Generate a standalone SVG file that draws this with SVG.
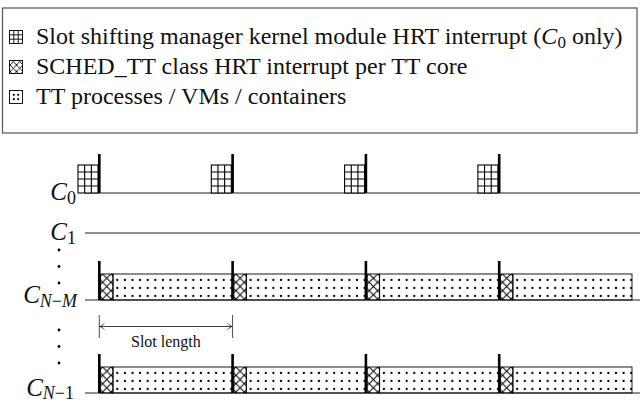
<svg xmlns="http://www.w3.org/2000/svg" xmlns:xlink="http://www.w3.org/1999/xlink" width="640" height="404" viewBox="0 0 640 404">
<style>
.t{font-family:"Liberation Serif","Times New Roman",serif;fill:#111}
.it{font-style:italic}
.ln{stroke:#222;stroke-width:1;fill:none}
.bar{fill:#000}
</style>
<defs>
<pattern id="cross" patternUnits="userSpaceOnUse" x="3.33" y="-26" width="8.33" height="8.33">
<path d="M0,0L8.33,8.33M0,8.33L8.33,0" stroke="#000" stroke-width="1"/>
</pattern>
<pattern id="dots" patternUnits="userSpaceOnUse" x="14.2" y="-24" width="7.6" height="8">
<circle cx="3.8" cy="4" r="1.15" fill="#000"/>
</pattern>
<pattern id="lcross" patternUnits="userSpaceOnUse" x="10" y="0" width="6.5" height="6.5">
<path d="M0,0L6.5,6.5M0,6.5L6.5,0" stroke="#000" stroke-width="0.9"/>
</pattern>
<g id="seg">
<rect x="1.3" y="-26" width="12.4" height="26" fill="url(#cross)" stroke="#000" stroke-width="0.9"/>
<rect x="13.7" y="-26" width="119.1" height="26" fill="url(#dots)" stroke="#000" stroke-width="0.9"/>
<rect class="bar" x="-1.3" y="-39" width="2.6" height="39"/>
</g>
<g id="gridbox">
<rect x="-21.3" y="-28" width="20" height="28" fill="#fff" stroke="#000" stroke-width="1.1"/>
<path d="M-14.63,-28V0M-7.97,-28V0M-21.3,-21H-1.3M-21.3,-14H-1.3M-21.3,-7H-1.3" stroke="#000" stroke-width="1.1"/>
<rect class="bar" x="-1.3" y="-39" width="2.6" height="39"/>
</g>
<marker id="ah" viewBox="-6 -4 7 8" markerWidth="7" markerHeight="8" refX="0" refY="0" orient="auto-start-reverse" markerUnits="userSpaceOnUse">
<path d="M-4.5,-3.2C-2.8,-1.2 -1.2,-0.3 0,0C-1.2,0.3 -2.8,1.2 -4.5,3.2" fill="none" stroke="#111" stroke-width="0.8"/>
</marker>
</defs>

<g id="legend">
<rect x="2.5" y="8" width="634.5" height="125" fill="#fff" stroke="#555" stroke-width="1.2"/>
<g id="legend-grid">
<rect x="9.5" y="30.5" width="13" height="13" fill="#fff" stroke="#000" stroke-width="0.9"/>
<path d="M13.83,30.5V43.5M18.17,30.5V43.5M9.5,34.83H22.5M9.5,39.17H22.5" stroke="#000" stroke-width="0.9"/>
<text class="t" x="36" y="44" font-size="24">Slot shifting manager kernel module HRT interrupt (<tspan class="it">C</tspan><tspan font-size="17" dy="4">0</tspan><tspan dy="-4"> only)</tspan></text>
</g>
<g id="legend-cross">
<rect x="9.5" y="60.5" width="13" height="13" fill="url(#lcross)" stroke="#000" stroke-width="0.9"/>
<text class="t" x="36" y="74" font-size="24">SCHED_TT class HRT interrupt per TT core</text>
</g>
<g id="legend-dots">
<rect x="9.5" y="90.5" width="13" height="13" fill="#fff" stroke="#000" stroke-width="0.9"/>
<circle cx="13.8" cy="94.8" r="1.1" fill="#000"/><circle cx="18.2" cy="94.8" r="1.1" fill="#000"/>
<circle cx="13.8" cy="99.2" r="1.1" fill="#000"/><circle cx="18.2" cy="99.2" r="1.1" fill="#000"/>
<text class="t" x="36" y="104" font-size="24">TT processes / VMs / containers</text>
</g>
</g>

<g id="connectors">
<path class="ln" d="M85,193H640M85,233H640M85,300H640M85,393H640"/>
<path d="M99.3,315V338M232.6,315V338" stroke="#222" stroke-width="0.8"/>
<path d="M99.8,326.5H232.1" stroke="#111" stroke-width="0.8" marker-start="url(#ah)" marker-end="url(#ah)"/>
</g>

<g id="core-C0">
<text class="t" x="76" y="200" font-size="25" text-anchor="end"><tspan class="it">C</tspan><tspan font-size="18" dy="4">0</tspan></text>
<use href="#gridbox" x="99.3" y="193"/>
<use href="#gridbox" x="232.6" y="193"/>
<use href="#gridbox" x="365.9" y="193"/>
<use href="#gridbox" x="499.2" y="193"/>
</g>

<g id="core-C1">
<text class="t" x="76" y="240" font-size="25" text-anchor="end"><tspan class="it">C</tspan><tspan font-size="18" dy="4">1</tspan></text>
</g>

<g id="vdots">
<circle cx="59" cy="250" r="1.4"/><circle cx="59" cy="266.5" r="1.4"/><circle cx="59" cy="283" r="1.4"/>
<circle cx="59" cy="330" r="1.4"/><circle cx="59" cy="346.5" r="1.4"/><circle cx="59" cy="363" r="1.4"/>
</g>

<g id="core-CNM">
<text class="t" x="77" y="303" font-size="25" text-anchor="end"><tspan class="it">C</tspan><tspan font-size="18" dy="3.5"><tspan class="it">N</tspan>−<tspan class="it">M</tspan></tspan></text>
<g transform="translate(0,300)">
<use href="#seg" x="99.3"/>
<use href="#seg" x="232.6"/>
<use href="#seg" x="365.9"/>
<use href="#seg" x="499.2"/>
</g>
</g>

<g id="core-CN1">
<text class="t" x="74" y="395.5" font-size="25" text-anchor="end"><tspan class="it">C</tspan><tspan font-size="18" dy="3.5"><tspan class="it">N</tspan>−1</tspan></text>
<g transform="translate(0,393)">
<use href="#seg" x="99.3"/>
<use href="#seg" x="232.6"/>
<use href="#seg" x="365.9"/>
<use href="#seg" x="499.2"/>
</g>
</g>

<g id="slot-label">
<text class="t" x="165.9" y="347" font-size="16" text-anchor="middle">Slot length</text>
</g>
</svg>
